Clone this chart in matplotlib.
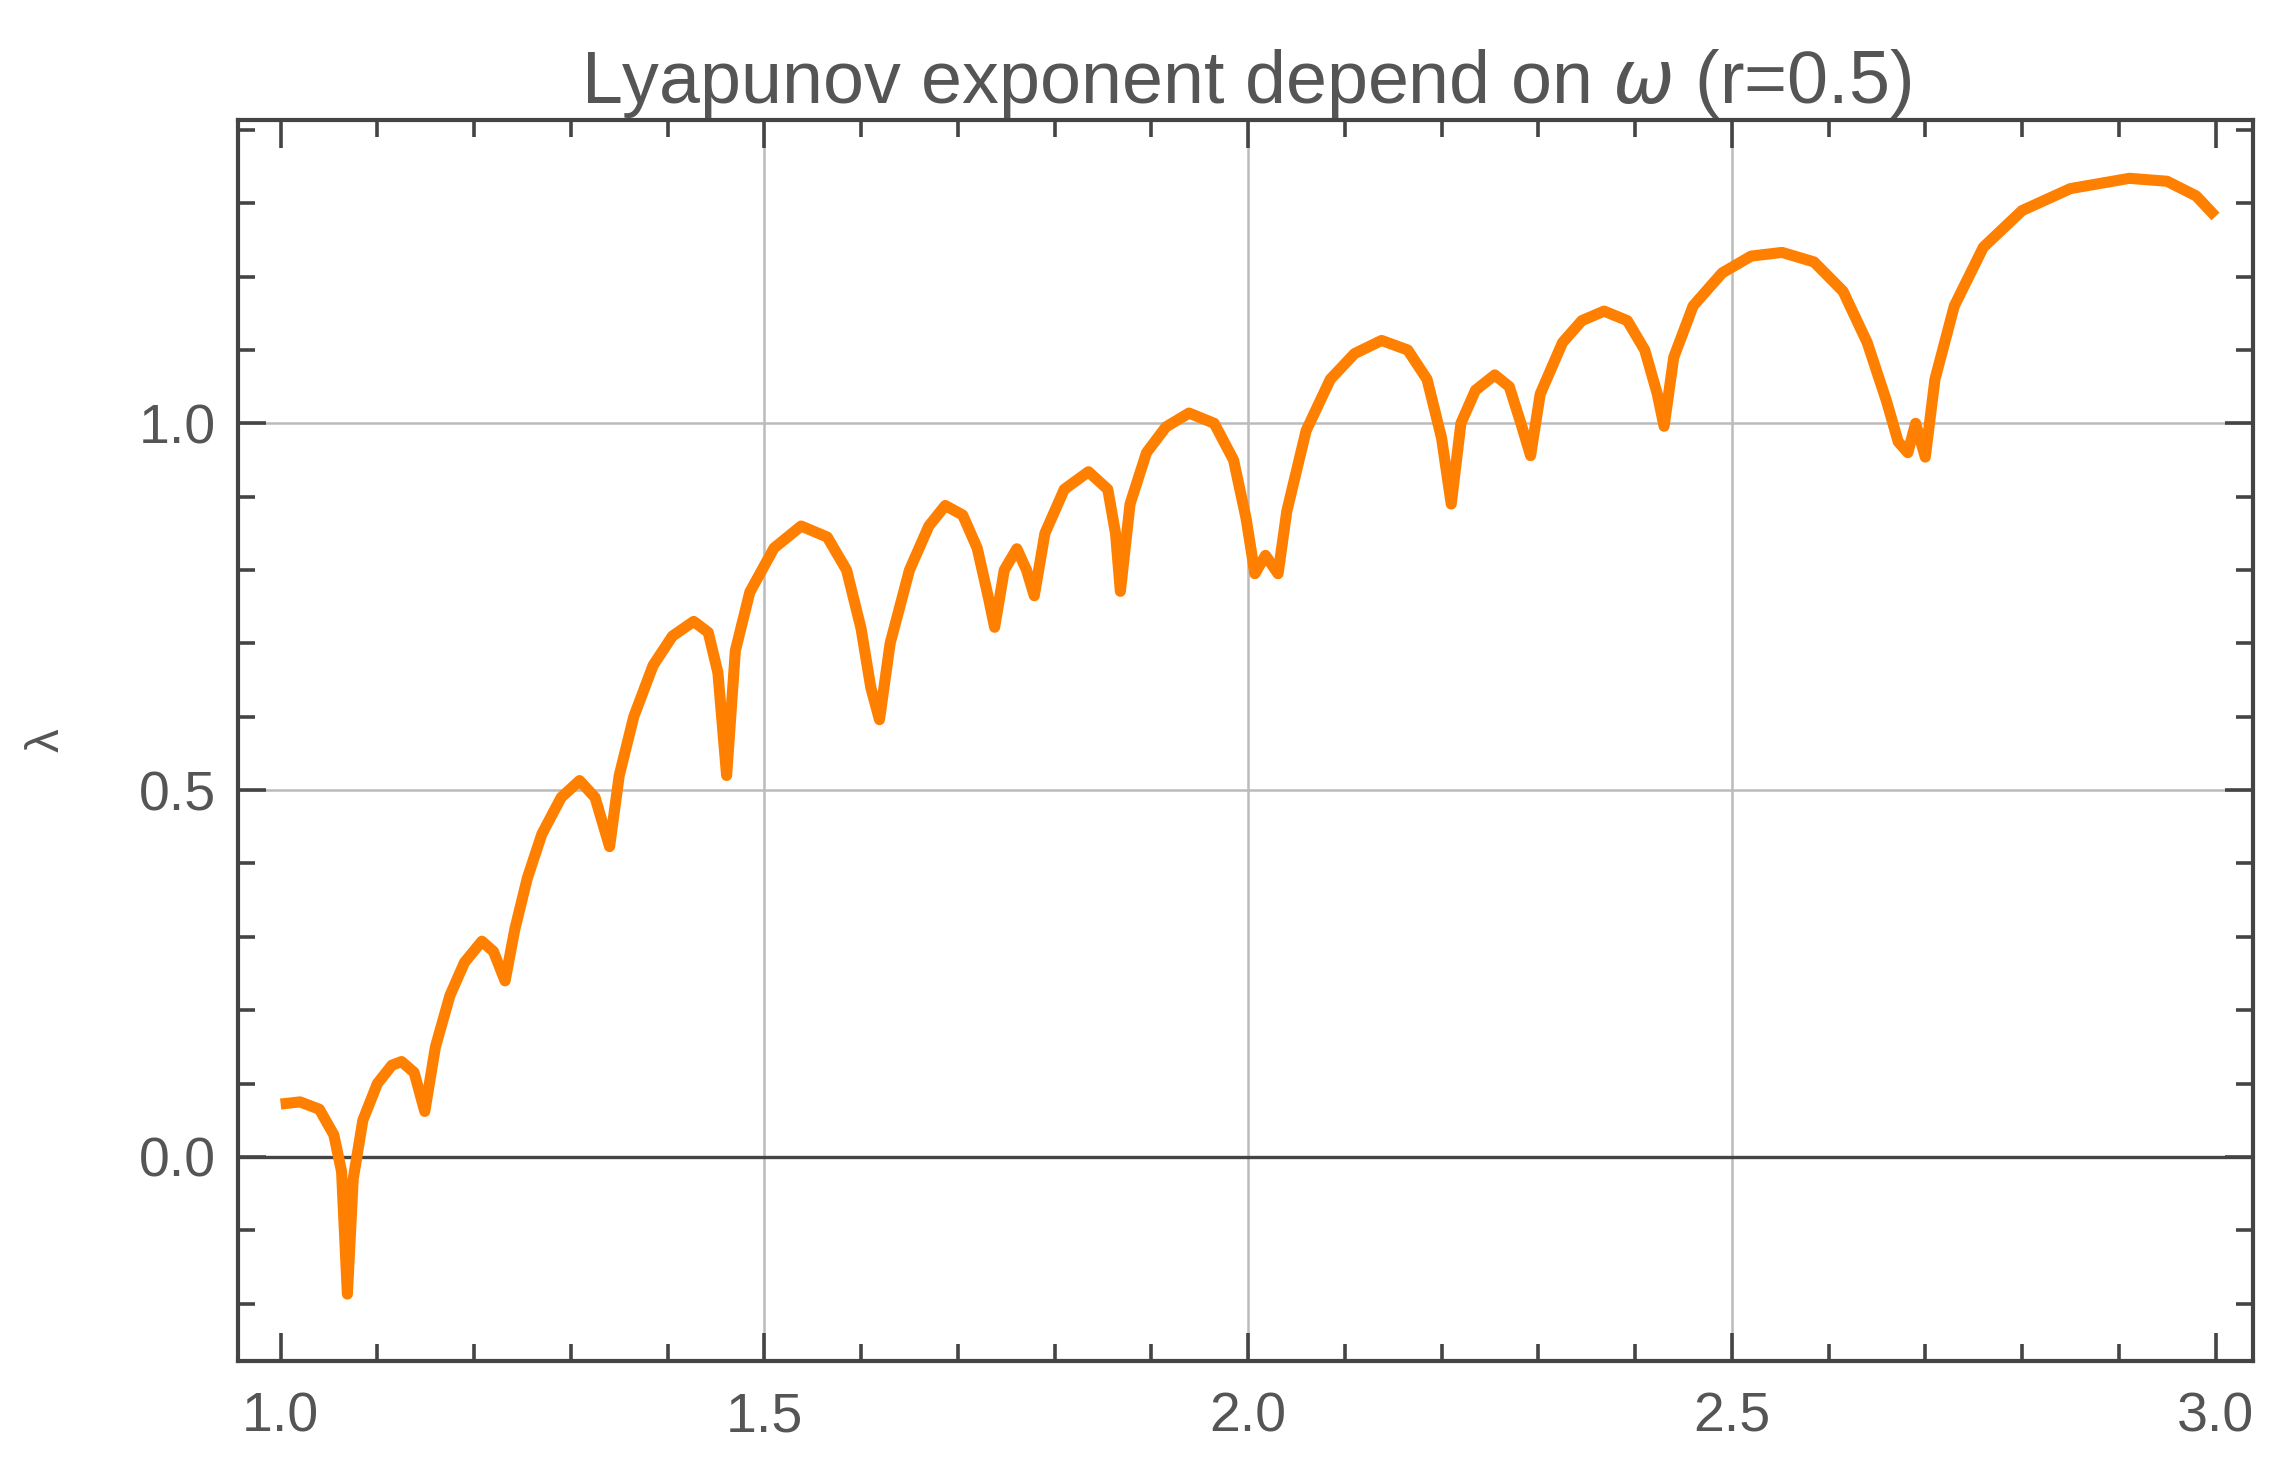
import matplotlib
matplotlib.use("Agg")
import matplotlib.pyplot as plt
from matplotlib.ticker import MultipleLocator

omega = [1.0, 1.02, 1.04, 1.055, 1.063, 1.069, 1.075, 1.085, 1.10, 1.115, 1.125, 1.138, 1.149,
         1.16, 1.175, 1.19, 1.208, 1.22, 1.232, 1.242, 1.255, 1.27, 1.29, 1.309, 1.325, 1.34,
         1.35, 1.365, 1.385, 1.405, 1.427, 1.442, 1.452, 1.461, 1.47, 1.485, 1.51, 1.538, 1.565,
         1.585, 1.60, 1.61, 1.619, 1.63, 1.65, 1.67, 1.687, 1.705, 1.72, 1.732, 1.738, 1.748,
         1.761, 1.771, 1.779, 1.79, 1.81, 1.835, 1.855, 1.863, 1.868, 1.878, 1.895, 1.915, 1.939,
         1.965, 1.985, 1.998, 2.007, 2.018, 2.031, 2.04, 2.06, 2.085, 2.11, 2.138, 2.165, 2.185,
         2.2, 2.21, 2.22, 2.235, 2.255, 2.27, 2.282, 2.292, 2.302, 2.325, 2.345, 2.368, 2.392,
         2.41, 2.423, 2.43, 2.44, 2.46, 2.49, 2.52, 2.552, 2.585, 2.615, 2.64, 2.66, 2.672, 2.682,
         2.69, 2.70, 2.71, 2.73, 2.76, 2.80, 2.85, 2.911, 2.95, 2.98, 3.0]
lyap = [0.072, 0.075, 0.065, 0.03, -0.02, -0.187, -0.03, 0.05, 0.10, 0.125, 0.13, 0.115, 0.062,
        0.15, 0.22, 0.265, 0.294, 0.28, 0.24, 0.31, 0.38, 0.44, 0.49, 0.513, 0.49, 0.423,
        0.52, 0.60, 0.67, 0.71, 0.73, 0.715, 0.66, 0.52, 0.69, 0.77, 0.83, 0.86, 0.845,
        0.80, 0.72, 0.64, 0.596, 0.70, 0.80, 0.86, 0.888, 0.875, 0.83, 0.76, 0.722, 0.80,
        0.829, 0.80, 0.765, 0.85, 0.91, 0.934, 0.91, 0.85, 0.771, 0.89, 0.96, 0.995, 1.014,
        1.0, 0.95, 0.87, 0.795, 0.82, 0.795, 0.88, 0.99, 1.06, 1.095, 1.113, 1.10, 1.06,
        0.98, 0.89, 1.0, 1.045, 1.066, 1.05, 1.0, 0.956, 1.04, 1.11, 1.14, 1.153, 1.14,
        1.10, 1.04, 0.996, 1.09, 1.16, 1.205, 1.228, 1.233, 1.22, 1.18, 1.11, 1.03, 0.975, 0.96,
        1.0, 0.954, 1.06, 1.16, 1.24, 1.29, 1.32, 1.334, 1.33, 1.31, 1.282]

plt.rcParams['font.family'] = ['Liberation Sans', 'DejaVu Sans']
gray = "#555555"
fig = plt.figure(figsize=(22.76, 14.68), dpi=100)
ax = fig.add_axes([0.1046, 0.073, 0.8854, 0.845])
ax.plot(omega, lyap, color="#FF8000", lw=8, solid_joinstyle="round", solid_capstyle="butt")
ax.set_xlim(0.956, 3.039)
ax.set_ylim(-0.278, 1.413)
ax.axhline(0, color="#444444", lw=2.4, zorder=1)
for x in [1.5, 2.0, 2.5]:
    ax.axvline(x, color="#bbbbbb", lw=1.8, zorder=0)
for y in [0.5, 1.0]:
    ax.axhline(y, color="#bbbbbb", lw=1.8, zorder=0)
ax.xaxis.set_major_locator(MultipleLocator(0.5))
ax.xaxis.set_minor_locator(MultipleLocator(0.1))
ax.yaxis.set_major_locator(MultipleLocator(0.5))
ax.yaxis.set_minor_locator(MultipleLocator(0.1))
ax.tick_params(which="both", direction="in", top=True, right=True, colors="#444444",
               labelcolor=gray, labelsize=40, width=2.6)
ax.tick_params(axis="x", pad=22)
ax.tick_params(axis="y", pad=16)
ax.tick_params(which="major", length=20)
ax.tick_params(which="minor", length=12)
for s in ax.spines.values():
    s.set_color("#444444"); s.set_linewidth(3)
ax.set_title("Lyapunov exponent depend on $\\omega$ (r=0.5)", fontsize=53, color=gray, pad=10)
ax.set_ylabel("λ", fontsize=34, color=gray, labelpad=50)
fig.savefig("out.png")
